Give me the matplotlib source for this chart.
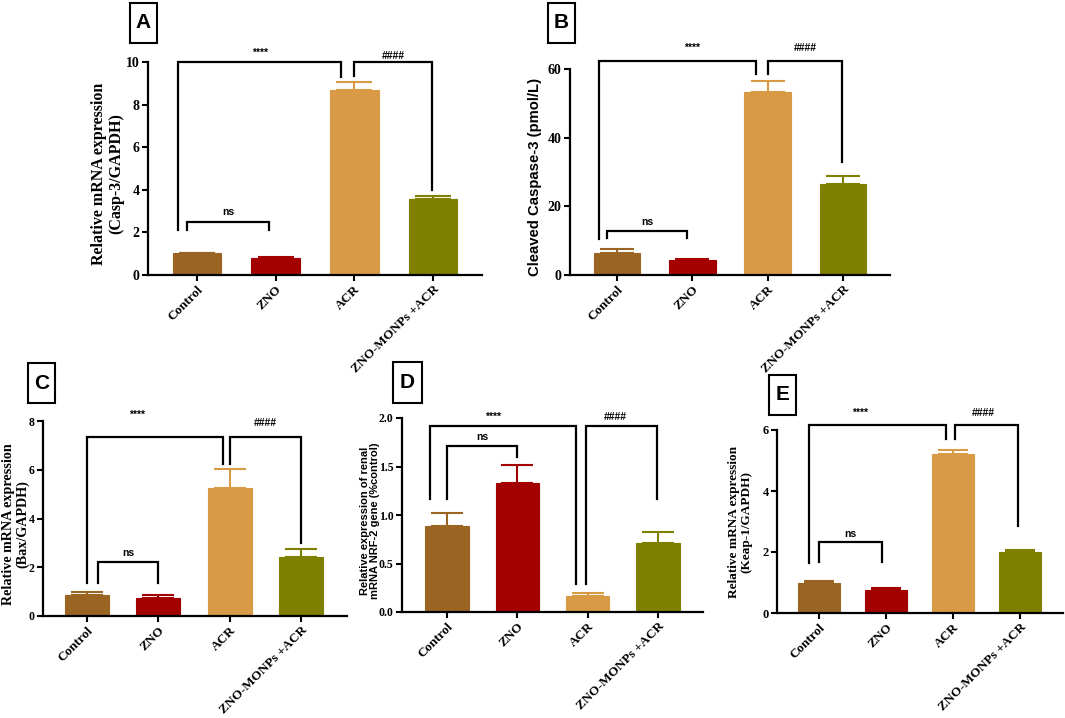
import matplotlib
matplotlib.use("Agg")
import matplotlib.pyplot as plt
from matplotlib.patches import Rectangle

W, H = 1065, 718

groups = ["Control", "ZNO", "ACR", "ZNO-MONPs +ACR"]
bar_colors = ["#9a6423", "#a30000", "#d99a45", "#7f7f00"]

# panel values (mean, upper error)
casp3_mrna = [1.03, 0.81, 8.68, 3.57]
casp3_mrna_err = [0.02, 0.04, 0.36, 0.15]
casp3_protein = [6.3, 4.4, 53.3, 26.5]
casp3_protein_err = [1.2, 0.4, 3.3, 2.4]
bax_mrna = [0.86, 0.74, 5.26, 2.42]
bax_mrna_err = [0.14, 0.12, 0.76, 0.34]
nrf2_mrna = [0.886, 1.33, 0.17, 0.71]
nrf2_mrna_err = [0.13, 0.19, 0.03, 0.11]
keap1_mrna = [1.0, 0.77, 5.2, 2.0]
keap1_mrna_err = [0.04, 0.04, 0.16, 0.05]

serif = "Liberation Serif"
sans = "Liberation Sans"

fig = plt.figure(figsize=(W / 100, H / 100), dpi=100)


def panel(vals, errs, ticks, ticklabels, box, centers, ylabel, ylab_xy,
          ylab_font, ylab_size, letter, letter_box, brackets, tick_size=9):
    left, right, top, bottom = box
    ymax = ticks[-1]
    ax = fig.add_axes([left / W, 1 - bottom / H, (right - left) / W, (bottom - top) / H])
    c0, c3 = centers
    sp = (c3 - c0) / 3
    ax.set_xlim(-(c0 - left) / sp, 3 + (right - c3) / sp)
    ax.set_ylim(0, ymax)

    xs = list(range(len(groups)))
    ax.bar(xs, vals, width=0.62, color=bar_colors, edgecolor=bar_colors, linewidth=0.8, zorder=2)
    cap = 0.23 * sp * 72 / 100
    for x, v, e, c in zip(xs, vals, errs, bar_colors):
        ax.errorbar(x, v, yerr=[[0], [e]], fmt="none", ecolor=c, elinewidth=1.5,
                    capsize=cap, capthick=1.5, zorder=1)

    for s in ["top", "right"]:
        ax.spines[s].set_visible(False)
    for s in ["left", "bottom"]:
        ax.spines[s].set_linewidth(1.6)
    ax.set_yticks(ticks)
    ax.set_yticklabels(ticklabels, fontfamily=serif, fontweight="bold", fontsize=tick_size)
    ax.set_xticks(xs)
    ax.set_xticklabels(groups, fontfamily=serif, fontweight="bold", fontsize=9.5,
                       rotation=45, ha="right", rotation_mode="anchor")
    ax.tick_params(axis="both", width=1.5, length=4, pad=2)

    fig.text(ylab_xy[0] / W, 1 - ylab_xy[1] / H, ylabel, rotation=90, ha="center",
             va="center", fontfamily=ylab_font, fontweight="bold", fontsize=ylab_size,
             linespacing=1.1)

    for x1, x2, ytop, y1, y2, label in brackets:
        ax.plot([x1, x1, x2, x2], [y1, ytop, ytop, y2], color="black", lw=1.6,
                clip_on=False, solid_joinstyle="miter")
        if label == "ns":
            ax.text((x1 + x2) / 2, ytop + ymax * 0.02, label, ha="center", va="bottom",
                    fontfamily=sans, fontweight="bold", fontsize=7.5)

    bx0, bx1, by0, by1 = letter_box
    fig.patches.append(Rectangle((bx0 / W, 1 - by1 / H), (bx1 - bx0) / W, (by1 - by0) / H,
                                 transform=fig.transFigure, fill=False, lw=1.5, ec="black"))
    fig.text((bx0 + bx1) / 2 / W, 1 - (by0 + by1) / 2 / H, letter, ha="center", va="center",
             fontfamily=sans, fontweight="bold", fontsize=15)
    return ax


def star(x, y, s):
    fig.text(x / W, 1 - y / H, s, ha="center", va="center", fontfamily=sans,
             fontsize=7.5, fontweight="bold")


# A
panel(casp3_mrna, casp3_mrna_err, [0, 2, 4, 6, 8, 10], ["0", "2", "4", "6", "8", "10"],
      (148, 482, 62, 275), (197, 433),
      "Relative mRNA expression\n(Casp-3/GAPDH)", (108, 174), serif, 11.5,
      "A", (130, 157, 3, 43),
      [(-0.24, 1.835, 10.0, 2.1, 9.3, "****"),
       (1.99, 2.99, 10.0, 9.35, 4.0, "####"),
       (-0.13, 0.92, 2.5, 2.1, 2.1, "ns")], tick_size=10)
star(260, 53, "****")
star(393, 56, "####")

# B
panel(casp3_protein, casp3_protein_err, [0, 20, 40, 60], ["0", "20", "40", "60"],
      (570, 890, 69, 275), (617, 843),
      "Cleaved Caspase-3 (pmol/L)", (535, 177), sans, 10.7,
      "B", (548, 575, 3, 43),
      [(-0.24, 1.85, 62.4, 10.5, 58.6, "****"),
       (2.0, 2.99, 62.4, 58.6, 33.0, "####"),
       (-0.13, 0.93, 12.9, 10.7, 10.7, "ns")], tick_size=10)
star(692, 48, "****")
star(805, 48, "####")

# C
panel(bax_mrna, bax_mrna_err, [0, 2, 4, 6, 8], ["0", "2", "4", "6", "8"],
      (43, 347, 421, 616), (87, 301),
      "Relative mRNA expression\n(Bax/GAPDH)", (16, 524), serif, 10.2,
      "C", (28, 55, 363, 403),
      [(0.0, 1.9, 7.36, 1.35, 6.25, "****"),
       (2.0, 3.0, 7.36, 6.25, 3.0, "####"),
       (0.15, 1.0, 2.23, 1.35, 1.35, "ns")], tick_size=8.5)
star(137, 415, "****")
star(265, 423, "####")

# D
panel(nrf2_mrna, nrf2_mrna_err, [0, 0.5, 1.0, 1.5, 2.0], ["0.0", "0.5", "1.0", "1.5", "2.0"],
      (402, 703, 418, 612), (447, 658),
      "Relative expression of renal\nmRNA NRF-2 gene (%control)", (370, 521), sans, 8.0,
      "D", (393, 422, 362, 403),
      [(-0.24, 1.83, 1.915, 1.17, 0.29, "****"),
       (1.98, 2.99, 1.915, 0.29, 1.17, "####"),
       (0.0, 1.0, 1.71, 1.17, 1.6, "ns")], tick_size=8.5)
star(493, 417, "****")
star(615, 417, "####")

# E
panel(keap1_mrna, keap1_mrna_err, [0, 2, 4, 6], ["0", "2", "4", "6"],
      (777, 1063, 430, 613), (819, 1020),
      "Relative mRNA expression\n(Keap-1/GAPDH)", (740, 522), serif, 9.5,
      "E", (769, 796, 375, 415),
      [(-0.15, 1.9, 6.16, 1.64, 5.7, "****"),
       (2.03, 2.97, 6.16, 5.7, 2.84, "####"),
       (0.0, 0.94, 2.32, 1.66, 1.66, "ns")])
star(860, 413, "****")
star(983, 413, "####")

fig.savefig("out.png", dpi=100, facecolor="white")
